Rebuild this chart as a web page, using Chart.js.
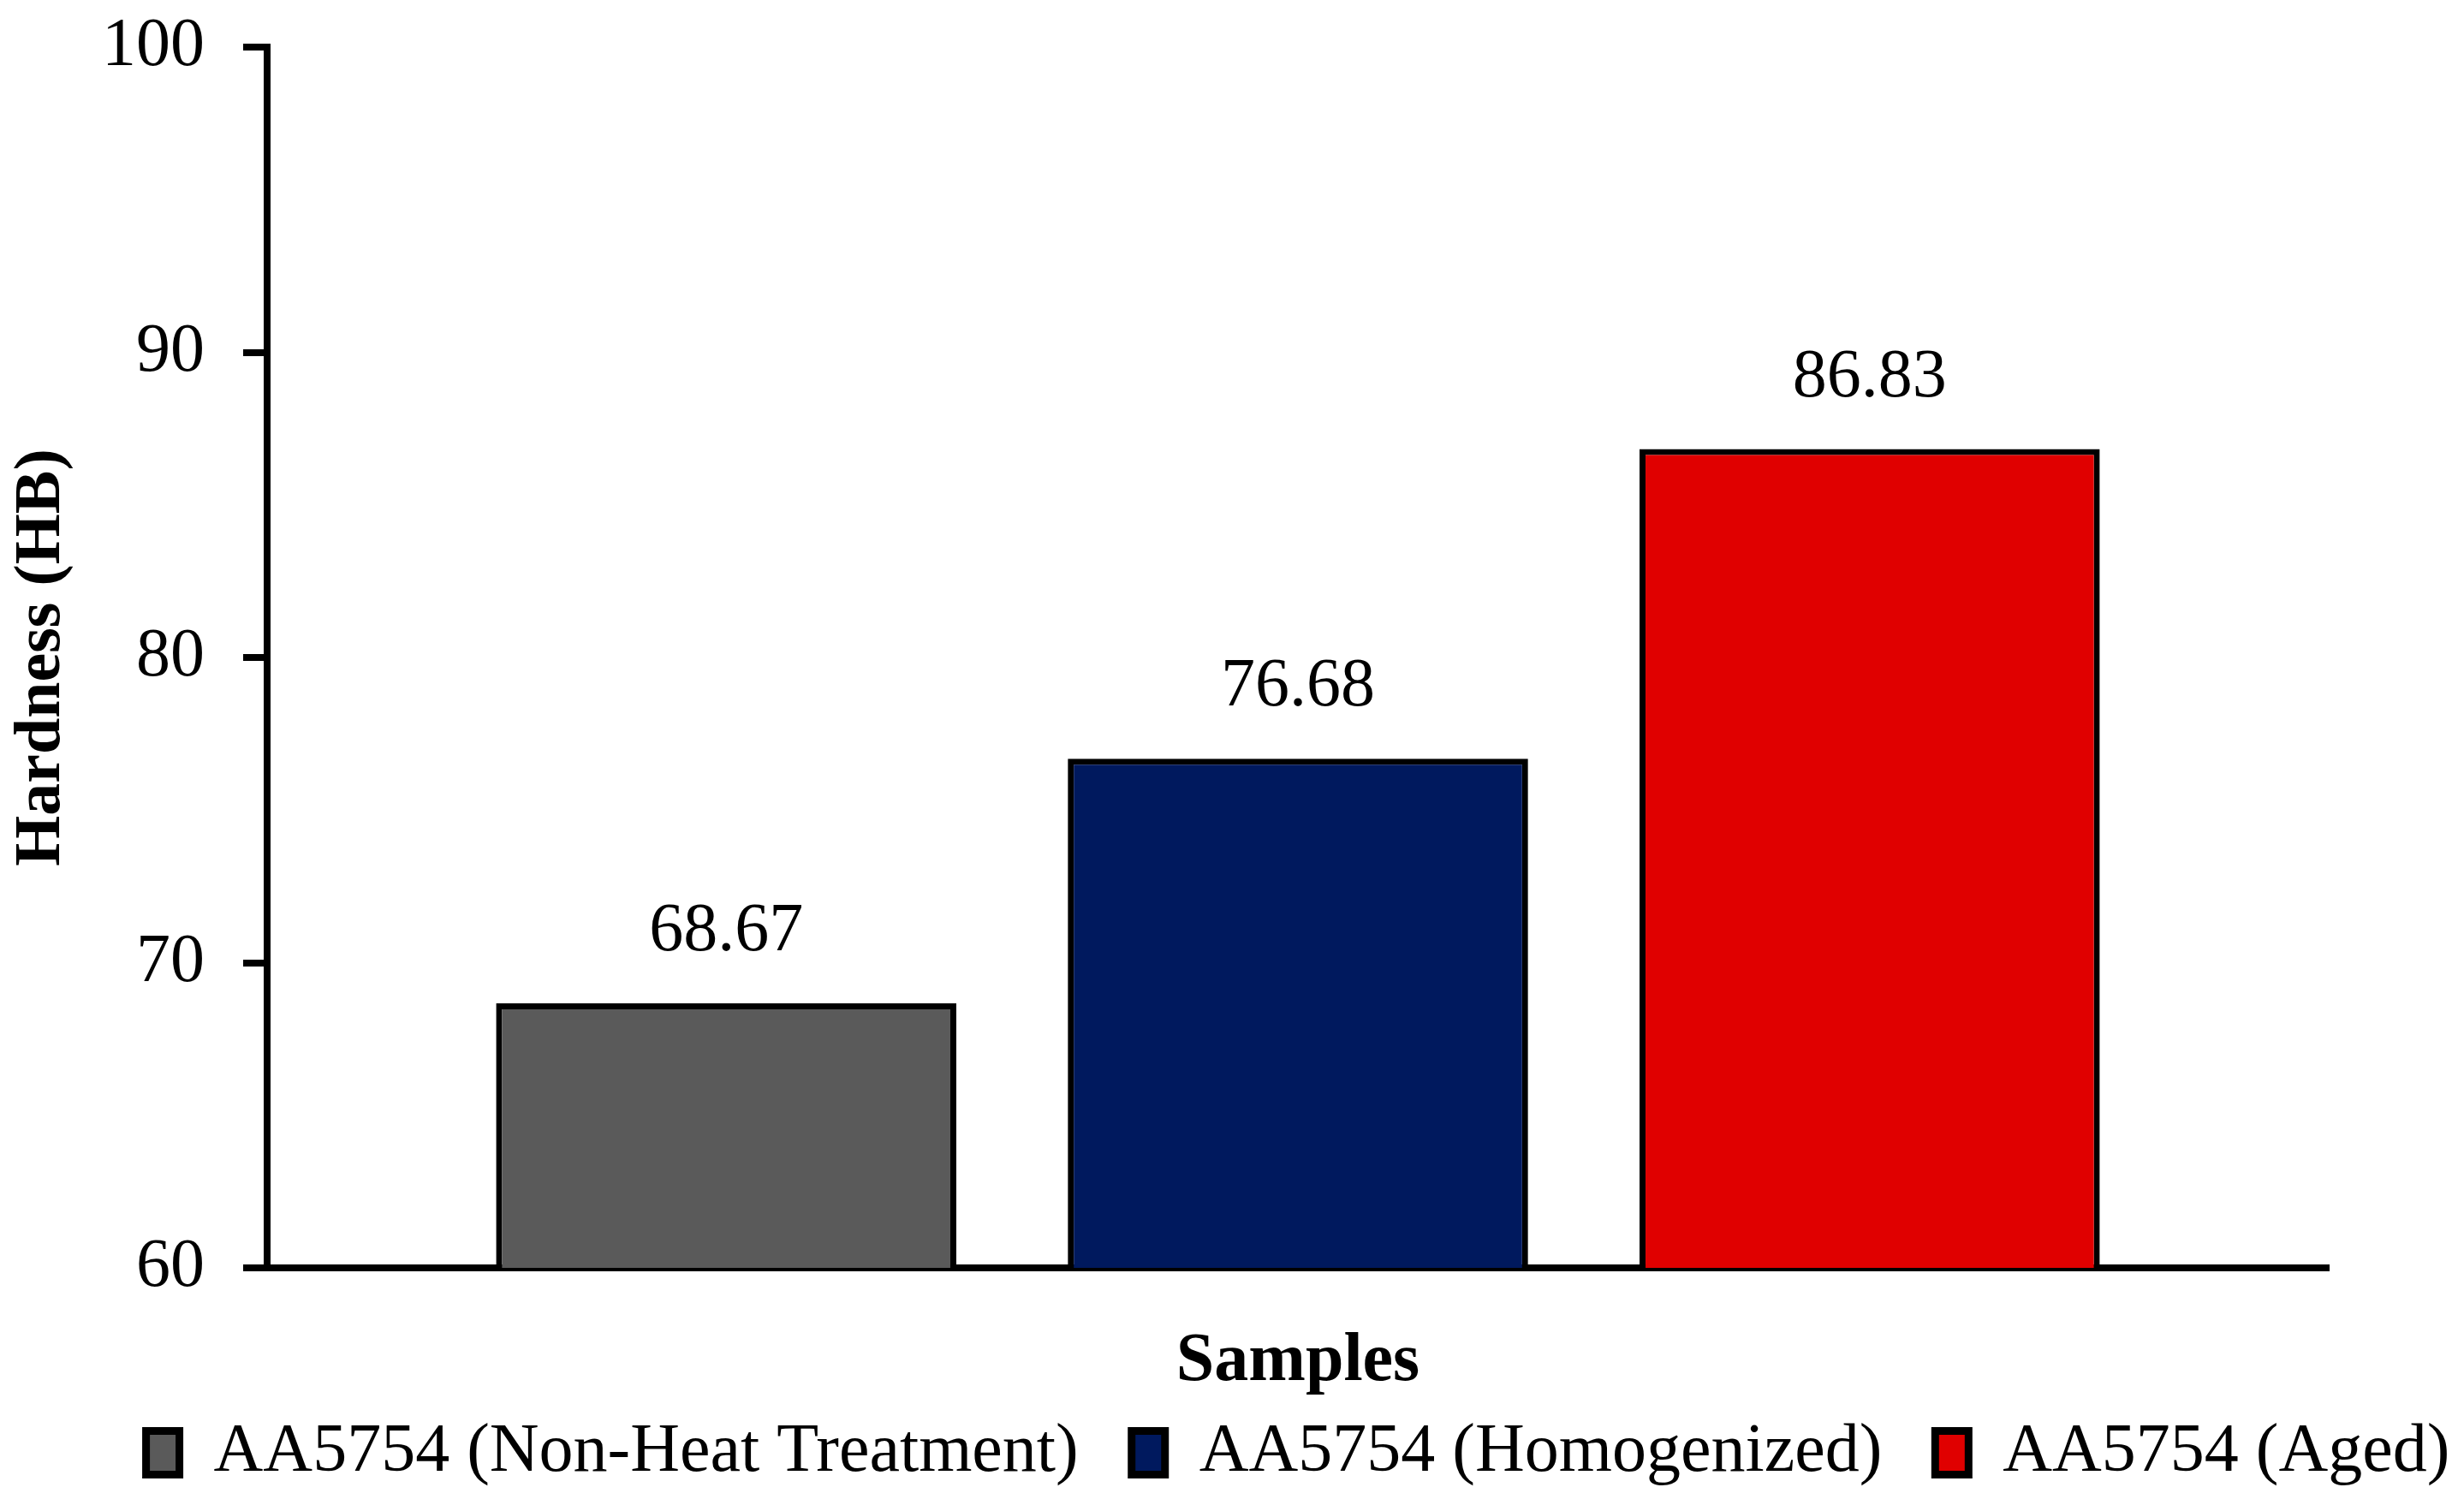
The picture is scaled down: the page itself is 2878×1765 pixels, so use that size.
<!DOCTYPE html>
<html>
<head>
<meta charset="utf-8">
<title>Hardness of AA5754 samples</title>
<script src="https://cdn.jsdelivr.net/npm/chart.js@4/dist/chart.umd.min.js"></script>
<style>
  html, body { margin: 0; padding: 0; background: #fff; }
  #wrap { width: 2878px; height: 1765px; position: relative; }
</style>
</head>
<body>
<div id="wrap"><canvas id="hardnessChart"></canvas></div>
<script>
// Data
const categories = [''];
const sampleNames = ['AA5754 (Non-Heat Treatment)', 'AA5754 (Homogenized)', 'AA5754 (Aged)'];
const hardnessValues = [68.67, 76.68, 86.83];
const sampleColors = ['#5A5A5A', '#00195E', '#E00000'];
const yTicks = [60, 70, 80, 90, 100];

const FONT = '"Liberation Serif", "Times New Roman", serif';

// Value labels above each bar
const barValueLabels = {
  id: 'barValueLabels',
  afterDatasetsDraw(chart) {
    const ctx = chart.ctx;
    ctx.save();
    ctx.font = '80px ' + FONT;
    ctx.fillStyle = '#000';
    ctx.textAlign = 'center';
    ctx.textBaseline = 'middle';
    chart.data.datasets.forEach((ds, i) => {
      chart.getDatasetMeta(i).data.forEach((bar, j) => {
        ctx.fillText(ds.data[j].toFixed(2), bar.x, bar.y - 83);
      });
    });
    ctx.restore();
  }
};

// Center the legend under the plot area instead of the whole canvas
const centerLegend = {
  id: 'centerLegend',
  afterLayout(chart) {
    const lg = chart.legend;
    const area = chart.chartArea;
    const dx = (area.left + area.right) / 2 - (lg.left + lg.right) / 2;
    lg.left += dx;
    lg.right += dx;
  }
};

const datasets = sampleNames.map((name, i) => ({
  label: name,
  data: [hardnessValues[i]],
  backgroundColor: sampleColors[i],
  borderColor: '#000',
  borderWidth: 7,
  borderSkipped: false,
  categoryPercentage: 0.832,
  barPercentage: 0.805
}));

const ctx = document.getElementById('hardnessChart').getContext('2d');
new Chart(ctx, {
  type: 'bar',
  data: { labels: categories, datasets: datasets },
  plugins: [barValueLabels, centerLegend],
  options: {
    responsive: true,
    maintainAspectRatio: false,
    animation: false,
    layout: { padding: { top: 55, right: 0, left: 0, bottom: 18 } },
    scales: {
      x: {
        grid: { display: false },
        border: { display: true, color: '#000', width: 8 },
        ticks: { display: false },
        title: {
          display: true,
          text: 'Samples',
          color: '#000',
          font: { family: FONT, size: 80, weight: 'bold' },
          padding: { top: 0, bottom: -44 }
        },
        afterFit(scale) { scale.height = 114; }
      },
      y: {
        min: yTicks[0],
        max: yTicks[yTicks.length - 1],
        ticks: {
          stepSize: yTicks[1] - yTicks[0],
          color: '#000',
          padding: 45,
          font: { family: FONT, size: 80 }
        },
        grid: {
          drawOnChartArea: false,
          drawTicks: true,
          tickLength: 28,
          tickWidth: 8,
          color: '#000',
          lineWidth: 8
        },
        border: { display: true, color: '#000', width: 8 },
        title: {
          display: true,
          text: 'Hardness (HB)',
          color: '#000',
          font: { family: FONT, size: 76, weight: 'bold' },
          padding: { top: 4, bottom: 0 }
        },
        afterFit(scale) {
          scale.width = 312;
          // the tick padding should not push the plot top/bottom inward
          scale.paddingTop = 0;
          scale.paddingBottom = 0;
        }
      },
      // empty right-hand spacer so the plot ends where the original does
      spacer: {
        type: 'linear',
        position: 'right',
        display: true,
        grid: { display: false },
        border: { display: false },
        ticks: { display: false },
        afterFit(scale) { scale.width = 158; }
      }
    },
    plugins: {
      legend: {
        position: 'bottom',
        labels: {
          color: '#000',
          boxWidth: 39,
          boxHeight: 51,
          padding: 62,
          font: { family: FONT, size: 80 },
          generateLabels(chart) {
            const items = Chart.defaults.plugins.legend.labels.generateLabels(chart);
            items.forEach(item => { item.lineWidth = 9; });
            return items;
          }
        }
      },
      tooltip: { enabled: false }
    }
  }
});
</script>
</body>
</html>
